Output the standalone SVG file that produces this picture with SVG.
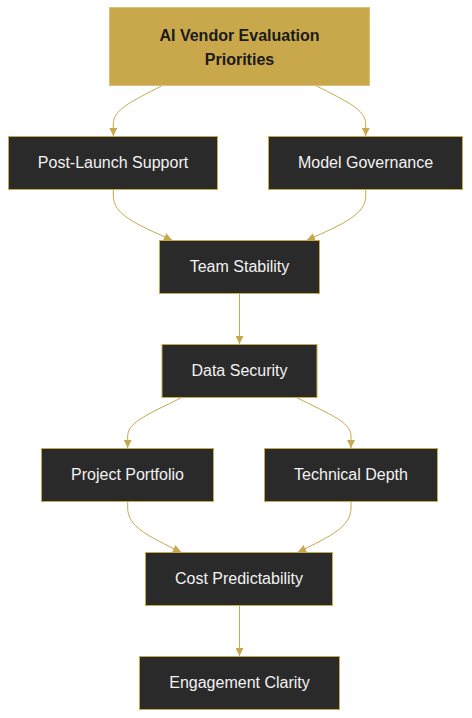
<svg xmlns="http://www.w3.org/2000/svg" width="472" height="718" viewBox="0 0 472 718">
<style>
.n rect{fill:#2a2a2a;stroke:#c9a84c;stroke-width:1}
.n text{fill:#f2f2f2;font-family:"Liberation Sans",Arial,sans-serif;font-size:16px;text-anchor:middle}
.t rect{fill:#c9a84c;stroke:#d9c07a;stroke-width:1}
.t text{fill:#1a1a1a;font-family:"Liberation Sans",Arial,sans-serif;font-size:16px;font-weight:bold;text-anchor:middle}
.e path{fill:none;stroke:#c9a84c;stroke-width:1;marker-end:url(#arr)}
</style>
<defs>
<marker id="arr" viewBox="0 0 10 10" refX="10" refY="5" markerWidth="8" markerHeight="8" markerUnits="userSpaceOnUse" orient="auto">
<path d="M0,0 L10,5 L0,10 z" fill="#c9a84c"/>
</marker>
</defs>
<g id="edges" class="e">
<path d="M161.5,86 C130,102 113.3,110 113.3,124 L113.3,136"/>
<path d="M316.7,86 C348,102 365.7,110 365.7,124 L365.7,136"/>
<path d="M113.3,190 L113.3,196 C113.3,214 135,224 172,240"/>
<path d="M365.7,190 L365.7,196 C365.7,214 344,224 307,240"/>
<path d="M239.5,294 L239.5,344"/>
<path d="M180.7,398 C149,414 127.7,422 127.7,436 L127.7,448"/>
<path d="M297.5,398 C329,414 351,422 351,436 L351,448"/>
<path d="M127.7,502 L127.7,508 C127.7,526 147,536 181,552"/>
<path d="M351,502 L351,508 C351,526 332,536 298,552"/>
<path d="M239.5,606 L239.5,656"/>
</g>
<g id="n0" class="t"><rect x="109.5" y="7.5" width="260" height="78"/><text x="239.5" y="40.5">AI Vendor Evaluation</text><text x="239.5" y="64.5">Priorities</text></g>
<g id="n1" class="n"><rect x="8.5" y="136.5" width="209" height="53"/><text x="113" y="168">Post-Launch Support</text></g>
<g id="n2" class="n"><rect x="268.5" y="136.5" width="194" height="53"/><text x="365.5" y="168">Model Governance</text></g>
<g id="n3" class="n"><rect x="159.5" y="240.5" width="160" height="53"/><text x="239.5" y="272">Team Stability</text></g>
<g id="n4" class="n"><rect x="162" y="344.5" width="155" height="53"/><text x="239.5" y="376">Data Security</text></g>
<g id="n5" class="n"><rect x="41.5" y="448.5" width="172" height="53"/><text x="127.5" y="480">Project Portfolio</text></g>
<g id="n6" class="n"><rect x="264.5" y="448.5" width="173" height="53"/><text x="351" y="480">Technical Depth</text></g>
<g id="n7" class="n"><rect x="145.5" y="552.5" width="187" height="53"/><text x="239" y="584">Cost Predictability</text></g>
<g id="n8" class="n"><rect x="139.5" y="656.5" width="200" height="53"/><text x="239.5" y="688">Engagement Clarity</text></g>
</svg>
